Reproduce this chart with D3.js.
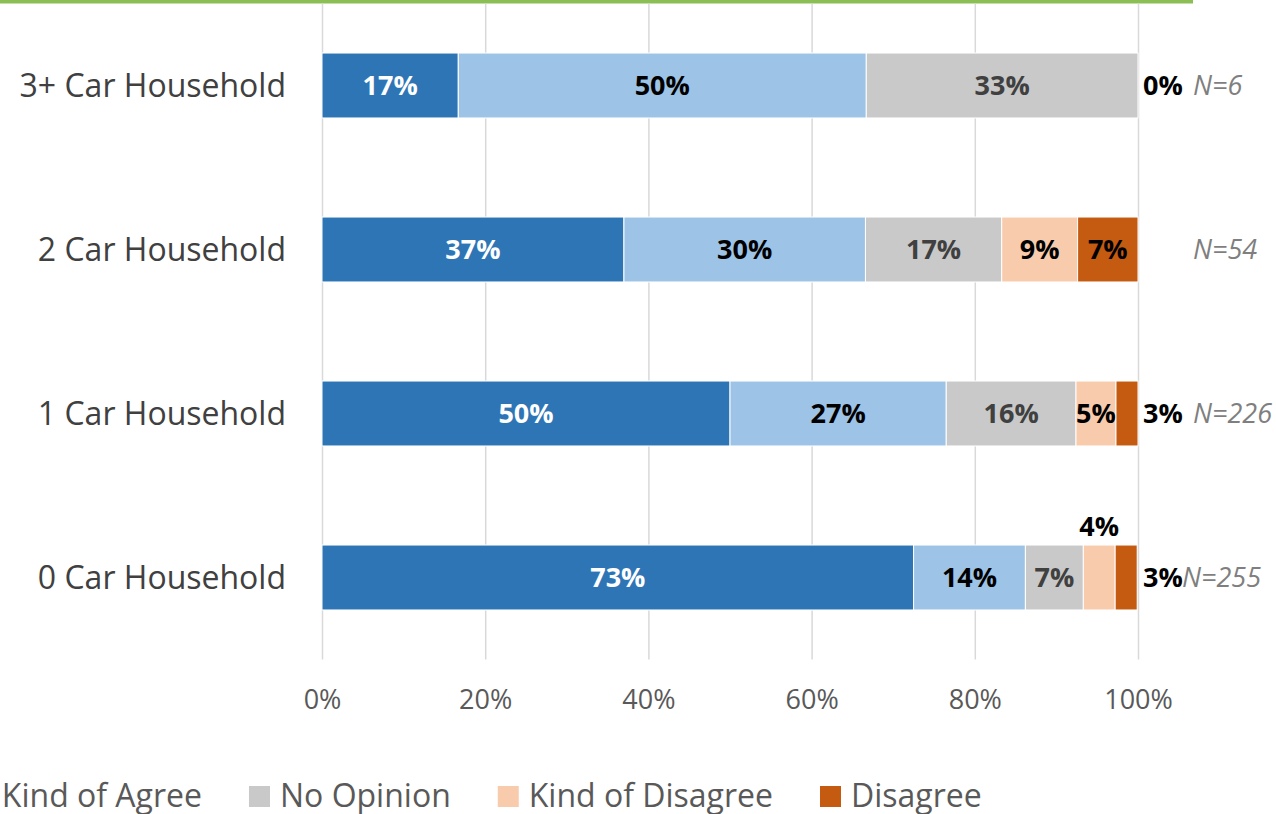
<!DOCTYPE html>
<html><head><meta charset="utf-8">
<script src="https://cdn.jsdelivr.net/npm/d3@7"></script>
<style>
html,body{margin:0;padding:0;background:#fff;overflow:hidden}
svg{display:block}
</style></head>
<body>
<svg id="chart" width="1276" height="814"></svg>
<script>
// ---- data ----
const categories = ["3+ Car Household", "2 Car Household", "1 Car Household", "0 Car Household"];
const seriesNames = ["Agree", "Kind of Agree", "No Opinion", "Kind of Disagree", "Disagree"];
const agree          = [16.7, 37.0, 50.0, 72.5];
const kindOfAgree    = [50.0, 29.6, 26.5, 13.7];
const noOpinion      = [33.3, 16.7, 15.9, 7.1];
const kindOfDisagree = [0.0, 9.3, 4.9, 3.9];
const disagree       = [0.0, 7.4, 2.7, 2.7];
const sampleSizes    = ["N=6", "N=54", "N=226", "N=255"];
const tickValues     = [0, 20, 40, 60, 80, 100];
const tickLabels     = ["0%", "20%", "40%", "60%", "80%", "100%"];

// ---- styles / layout ----
const colors = ["#2E75B6", "#9DC3E6", "#C9C9C9", "#F8CBAD", "#C55A11"];
const labelColors = ["#FFFFFF", "#000000", "#404040", "#000000", "#000000"];
const FONT = "'Open Sans', 'DejaVu Sans', sans-serif";
const nLabelX = [1193, 1193, 1193, 1182];

const svg = d3.select("#chart");
const x = d3.scaleLinear().domain([0, 100]).range([322, 1138]);
const y = d3.scaleBand().domain(categories).range([3.5, 659.5]).paddingInner(0.604).paddingOuter(0.302);

// top green rule
svg.append("rect").attr("x", 0).attr("y", 0).attr("width", 1193).attr("height", 3.5).attr("fill", "#8BBF56");

// gridlines via axis
const grid = svg.append("g").attr("transform", "translate(0,659.5)")
  .call(d3.axisTop(x).tickValues(tickValues).tickSize(656).tickFormat(""));
grid.select(".domain").remove();
grid.selectAll("line").attr("stroke", "#D9D9D9").attr("stroke-width", 1.5);

// tick labels via axis
const xAxis = svg.append("g").attr("transform", "translate(0,700)")
  .call(d3.axisBottom(x).tickValues(tickValues).tickSize(0).tickFormat((d, i) => tickLabels[i]));
xAxis.select(".domain").remove();
xAxis.selectAll("text").attr("font-family", FONT).attr("font-size", 27).attr("fill", "#595959")
  .attr("dy", "0.35em").attr("y", 0);

// category labels via axis
const yAxis = svg.append("g").attr("transform", "translate(286,0)")
  .call(d3.axisLeft(y).tickSize(0).tickPadding(0));
yAxis.select(".domain").remove();
yAxis.selectAll("text").attr("font-family", FONT).attr("font-size", 32).attr("fill", "#404040")
  .attr("dy", "0.35em");

// stacked data
const rows = categories.map((c, i) => ({
  cat: c, vals: [agree[i], kindOfAgree[i], noOpinion[i], kindOfDisagree[i], disagree[i]]
}));
const stack = d3.stack().keys([0, 1, 2, 3, 4]).value((d, k) => d.vals[k]);
const layers = stack(rows);

const fmt = v => Math.round(v) + "%";

layers.forEach((layer, k) => {
  const g = svg.append("g");
  g.selectAll("rect").data(layer).join("rect")
    .attr("x", d => x(d[0]))
    .attr("y", d => y(d.data.cat))
    .attr("width", d => Math.max(0, x(d[1]) - x(d[0])))
    .attr("height", y.bandwidth())
    .attr("fill", colors[k])
    .attr("stroke", "#fff").attr("stroke-width", 1);
});

// data labels
const labelSize = 27;
const lg = svg.append("g").attr("font-family", FONT).attr("font-weight", "bold").attr("font-size", labelSize);
layers.forEach((layer, k) => {
  layer.forEach((d, i) => {
    const v = d.data.vals[k];
    const w = x(d[1]) - x(d[0]);
    const cy = y(d.data.cat) + y.bandwidth() / 2;
    const t = lg.append("text").text(fmt(v)).attr("dy", "0.35em");
    const tw = t.node().getComputedTextLength();
    if (k === 4 && w < tw) {
      // disagree: outside right of bar
      t.attr("x", x(100) + 5).attr("y", cy).attr("text-anchor", "start").attr("fill", "#000");
    } else if (v === 0) {
      t.remove();
    } else if (k === 3 && w < tw - 3) {
      t.attr("x", x((d[0] + d[1]) / 2)).attr("y", y(d.data.cat) - 18).attr("text-anchor", "middle").attr("fill", "#000");
    } else {
      t.attr("x", x((d[0] + d[1]) / 2)).attr("y", cy).attr("text-anchor", "middle").attr("fill", labelColors[k]);
    }
  });
});

// N labels
svg.append("g").selectAll("text").data(categories).join("text")
  .attr("x", (d, i) => nLabelX[i])
  .attr("y", d => y(d) + y.bandwidth() / 2)
  .attr("dy", "0.35em")
  .attr("font-family", FONT).attr("font-style", "italic").attr("font-size", 27)
  .attr("fill", "#7F7F7F")
  .text((d, i) => sampleSizes[i]);

// legend laid out right-to-left, anchored on last swatch
const leg = svg.append("g").attr("font-family", FONT).attr("font-size", 32).attr("fill", "#595959");
let nextRight = null;
for (let k = seriesNames.length - 1; k >= 0; k--) {
  const t = leg.append("text").text(seriesNames[k]).attr("y", 795.5).attr("dy", "0.35em");
  const tw = t.node().getComputedTextLength();
  let rx;
  if (nextRight === null) rx = 820;
  else rx = nextRight - 47 - tw - 31;
  t.attr("x", rx + 31);
  leg.append("rect").attr("x", rx).attr("y", 786).attr("width", 21).attr("height", 21).attr("fill", colors[k]);
  nextRight = rx;
}
</script>
</body></html>
